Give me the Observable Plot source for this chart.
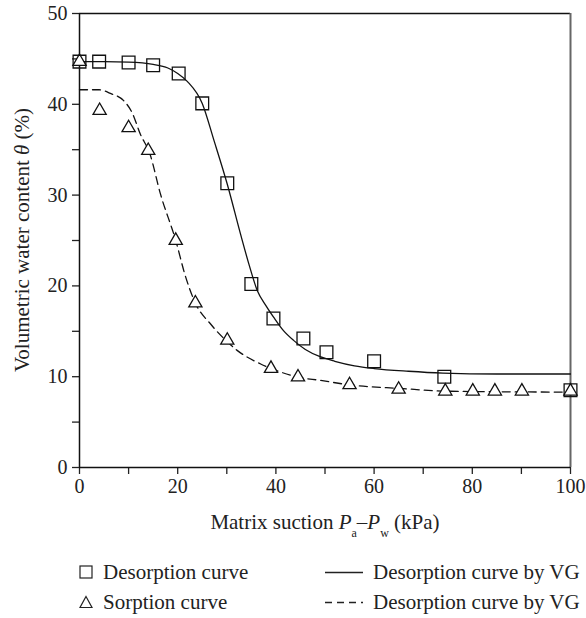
<!DOCTYPE html>
<html>
<head>
<meta charset="utf-8">
<script src="https://cdn.jsdelivr.net/npm/d3@7"></script>
<script src="https://cdn.jsdelivr.net/npm/@observablehq/plot@0.6"></script>
<style>
  html, body { margin: 0; padding: 0; background: #fff; }
  #wrap { position: relative; width: 586px; height: 618px; font-family: "Liberation Serif", "DejaVu Serif", serif; color: #222; }
  .leg { position: absolute; font-size: 21px; line-height: 1; white-space: nowrap; display: flex; align-items: center; }
  .leg svg { display: block; margin-right: 10px; }
</style>
</head>
<body>
<div id="wrap"></div>
<script>
// Measured points
const desorptionX = [0, 4, 10, 15, 20.2, 25, 30.1, 35, 39.5, 45.6, 50.3, 60, 74.3, 100];
const desorptionY = [44.7, 44.7, 44.6, 44.3, 43.4, 40.1, 31.3, 20.2, 16.4, 14.2, 12.7, 11.7, 10.0, 8.5];
const sorptionX = [0, 4.1, 10, 14, 19.6, 23.6, 30.1, 39, 44.5, 55, 65, 74.5, 80.1, 84.6, 90.1, 100];
const sorptionY = [44.7, 39.3, 37.4, 34.9, 25.0, 18.1, 14.0, 10.9, 9.95, 9.1, 8.6, 8.4, 8.4, 8.4, 8.4, 8.4];

// VG fitted curves
const desFitX = [0, 5, 10, 15, 18, 20, 22, 25, 27.4, 30.1, 32.8, 34.5, 36.2, 38, 39.6, 41.5, 43.6, 46, 49, 52, 56, 60, 67, 74, 85, 100];
const desFitY = [44.7, 44.7, 44.65, 44.4, 44.0, 43.4, 42.5, 40.1, 36.0, 31.2, 25.7, 22.4, 19.5, 17.8, 16.5, 15.1, 14.0, 13.0, 12.2, 11.7, 11.2, 10.9, 10.6, 10.4, 10.3, 10.3];
const sorFitX = [0, 4, 6.3, 9, 10.7, 12.4, 14.3, 16.5, 19.6, 21.5, 23.6, 26.7, 30, 32.1, 36.9, 40, 44.5, 49, 55, 65.5, 75, 100];
const sorFitY = [41.6, 41.6, 41.2, 40.4, 39.1, 36.7, 34.6, 30.1, 25.0, 21.2, 18.1, 15.8, 13.9, 12.9, 11.4, 10.7, 9.95, 9.6, 9.1, 8.7, 8.4, 8.3];

const xTicks = d3.range(0, 101, 10);
const yTicks = d3.range(0, 51, 5);

const desPts = desorptionX.map((x, i) => ({x, y: desorptionY[i]}));
const sorPts = sorptionX.map((x, i) => ({x, y: sorptionY[i]}));
const desFit = desFitX.map((x, i) => ({x, y: desFitY[i]}));
const sorFit = sorFitX.map((x, i) => ({x, y: sorFitY[i]}));

const FONT = '"Liberation Serif", "DejaVu Serif", serif';

const chart = Plot.plot({
  width: 586,
  height: 540,
  marginLeft: 79,
  marginRight: 16,
  marginTop: 13,
  marginBottom: 73,
  style: { fontFamily: FONT, fontSize: "20px", color: "#222", background: "#fff" },
  x: { domain: [0, 100] },
  y: { domain: [0, 50] },
  marks: [
    Plot.axisX({ ticks: xTicks, tickFormat: d => d % 20 === 0 ? d : "", tickSize: 7, tickPadding: 4, label: null, fontSize: 20, strokeWidth: 1.3 }),
    Plot.axisY({ ticks: yTicks, tickFormat: d => d % 10 === 0 ? d : "", tickSize: 7, tickPadding: 5, label: null, fontSize: 20, strokeWidth: 1.3 }),
    Plot.ruleY([50], { stroke: "#111", strokeWidth: 1.5 }),
    Plot.ruleX([100], { stroke: "#666", strokeWidth: 2 }),
    Plot.ruleY([0], { stroke: "#111", strokeWidth: 1.5 }),
    Plot.ruleX([0], { stroke: "#111", strokeWidth: 1.5 }),
    Plot.line(desFit, { x: "x", y: "y", stroke: "#111", strokeWidth: 1.3, curve: "monotone-x" }),
    Plot.line(sorFit, { x: "x", y: "y", stroke: "#111", strokeWidth: 1.3, strokeDasharray: "8,5", curve: "monotone-x" }),
    Plot.dot(sorPts, { x: "x", y: "y", symbol: "triangle", r: 4.9, fill: "#fff", stroke: "#111", strokeWidth: 1.3 }),
    Plot.dot(desPts, { x: "x", y: "y", symbol: "square", r: 7.2, fill: "none", stroke: "#111", strokeWidth: 1.3 })
  ]
});

const wrap = document.getElementById("wrap");
wrap.appendChild(chart);

// Axis titles with italic symbols and subscripts
const svg = d3.select(chart);
const xl = svg.append("text")
  .attr("x", 325).attr("y", 529)
  .attr("text-anchor", "middle")
  .attr("font-family", FONT).attr("font-size", 21).attr("fill", "#222");
xl.append("tspan").text("Matrix suction ");
xl.append("tspan").attr("font-style", "italic").text("P");
xl.append("tspan").attr("font-size", 12).attr("dy", 8).text("a");
xl.append("tspan").attr("dy", -8).text("–");
xl.append("tspan").attr("font-style", "italic").text("P");
xl.append("tspan").attr("font-size", 12).attr("dy", 8).text("w");
xl.append("tspan").attr("dy", -8).text(" (kPa)");

const yl = svg.append("text")
  .attr("transform", "translate(29,240) rotate(-90)")
  .attr("text-anchor", "middle")
  .attr("font-family", FONT).attr("font-size", 21).attr("fill", "#222");
yl.append("tspan").text("Volumetric water content ");
yl.append("tspan").attr("font-style", "italic").text("θ");
yl.append("tspan").text(" (%)");

// Legend (HTML below the plot)
const legendItems = [
  { label: "Desorption curve", kind: "square", left: 79, top: 572 },
  { label: "Sorption curve", kind: "triangle", left: 79, top: 602 },
  { label: "Desorption curve by VG", kind: "solid", left: 325, top: 572 },
  { label: "Desorption curve by VG", kind: "dashed", left: 325, top: 602 }
];
for (const it of legendItems) {
  const d = document.createElement("div");
  d.className = "leg";
  d.style.left = it.left + "px";
  d.style.top = (it.top - 12) + "px";
  d.style.height = "24px";
  let sw = "";
  if (it.kind === "square") sw = `<svg width="14" height="24"><rect x="1" y="6" width="12" height="12" fill="none" stroke="#222" stroke-width="1.2"/></svg>`;
  if (it.kind === "triangle") sw = `<svg width="14" height="24"><path d="M7,6.5 L13,17.5 L1,17.5 Z" fill="none" stroke="#222" stroke-width="1.2"/></svg>`;
  if (it.kind === "solid") sw = `<svg width="38" height="24"><line x1="0" x2="38" y1="12.5" y2="12.5" stroke="#222" stroke-width="1.3"/></svg>`;
  if (it.kind === "dashed") sw = `<svg width="38" height="24"><line x1="0" x2="38" y1="12.5" y2="12.5" stroke="#222" stroke-width="1.3" stroke-dasharray="7,5"/></svg>`;
  d.innerHTML = sw + `<span>${it.label}</span>`;
  wrap.appendChild(d);
}
</script>
</body>
</html>
